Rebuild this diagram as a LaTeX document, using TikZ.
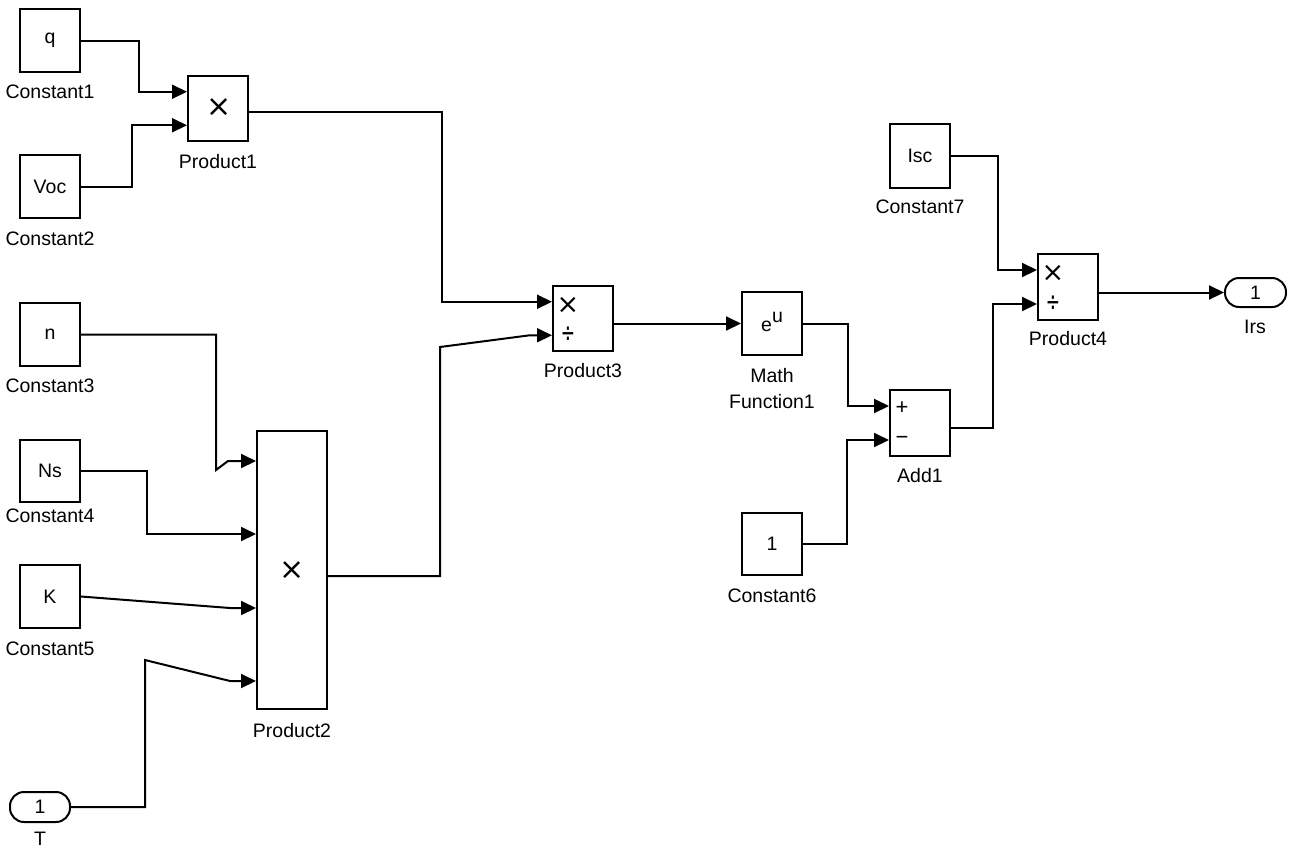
\documentclass[tikz,border=0pt]{standalone}
\usepackage{fontspec}
\setmainfont{Liberation Sans}
\newfontfamily\symfont{DejaVu Sans}
\usetikzlibrary{arrows.meta,calc}
\begin{document}
\begin{tikzpicture}[x=1pt,y=-1pt,
  blk/.style={draw, line width=2pt, inner sep=0pt, font=\fontsize{19.5}{22}\selectfont},
  lab/.style={anchor=base, font=\fontsize{19.5}{22}\selectfont, inner sep=0pt},
  sym/.style={inner sep=0pt, font=\fontsize{#1}{#1}\selectfont},
  sym/.default=19,
  wire/.style={line width=2pt, line join=miter},
  arr/.style={wire, -{Triangle[length=15pt,width=14pt]}},
  portblk/.style={blk, rounded corners=14pt}]
\useasboundingbox (0,0) rectangle (1295,847);

% blocks
\node[blk, minimum width=60pt, minimum height=63pt] (c1) at (50,40.5) {q};
\node[blk, minimum width=60pt, minimum height=63pt] (c2) at (50,186.5) {Voc};
\node[blk, minimum width=60pt, minimum height=63pt] (c3) at (50,334.5) {n};
\node[blk, minimum width=60pt, minimum height=62pt] (c4) at (50,471) {Ns};
\node[blk, minimum width=60pt, minimum height=63pt] (c5) at (50,596.5) {K};
\node[portblk, minimum width=60pt, minimum height=30pt] (T) at (40,807) {1};
\node[blk, minimum width=60pt, minimum height=65pt] (p1) at (218,108.5) {};
\node[blk, minimum width=70pt, minimum height=278pt] (p2) at (292,570) {};
\node[blk, minimum width=60pt, minimum height=65pt] (p3) at (583,318.5) {};
\node[blk, minimum width=60pt, minimum height=63pt] (mf) at (772,323.5) {};
\node[blk, minimum width=60pt, minimum height=62pt] (c6) at (772,544) {1};
\node[blk, minimum width=60pt, minimum height=66pt] (add) at (920,423) {};
\node[blk, minimum width=60pt, minimum height=64pt] (c7) at (920,156) {Isc};
\node[blk, minimum width=60pt, minimum height=66pt] (p4) at (1068,287) {};
\node[portblk, minimum width=61pt, minimum height=29pt] (irs) at (1255.5,292.5) {1};

% symbols inside blocks
\node[sym=30] (p1x) at (219,108) {\symfont ×};
\node[sym=30] (p2x) at (292,571) {\symfont ×};
\node[sym=27] (p3x) at (568,305) {\symfont ×};
\node[sym=20] (p3d) at (568,335) {\scalebox{0.85}[1.4]{\symfont ÷}};
\node[sym=27] (p4x) at (1053,273) {\symfont ×};
\node[sym=20] (p4d) at (1053,304) {\scalebox{0.85}[1.4]{\symfont ÷}};
\node[sym=22] (adp) at (902,408) {+};
\node[sym=22] (adm) at (902,440) {−};
\node[sym=19.5, anchor=base] (mfe) at (772,331) {e\raisebox{9pt}{u}};

% labels
\node[lab] (c1l) at (50,98) {Constant1};
\node[lab] (c2l) at (50,245) {Constant2};
\node[lab] (p1l) at (218,168) {Product1};
\node[lab] (c3l) at (50,392) {Constant3};
\node[lab] (c4l) at (50,522) {Constant4};
\node[lab] (c5l) at (50,655) {Constant5};
\node[lab] (p2l) at (292,737) {Product2};
\node[lab] (Tl) at (40,845) {T};
\node[lab] (p3l) at (583,377) {Product3};
\node[lab] (mfl1) at (772,382) {Math};
\node[lab] (mfl2) at (772,408) {Function1};
\node[lab] (addl) at (920,482) {Add1};
\node[lab] (c6l) at (772,602) {Constant6};
\node[lab] (c7l) at (920,213) {Constant7};
\node[lab] (p4l) at (1068,345) {Product4};
\node[lab] (irsl) at (1255,333) {Irs};

% ports
\coordinate (p1a) at ($(p1.north west)!0.25!(p1.south west)$);
\coordinate (p1b) at ($(p1.north west)!0.75!(p1.south west)$);
\coordinate (p3a) at ($(p3.north west)!0.25!(p3.south west)$);
\coordinate (p3b) at ($(p3.north west)!0.75!(p3.south west)$);
\coordinate (p4a) at ($(p4.north west)!0.25!(p4.south west)$);
\coordinate (p4b) at ($(p4.north west)!0.75!(p4.south west)$);
\coordinate (ada) at ($(add.north west)!0.25!(add.south west)$);
\coordinate (adb) at ($(add.north west)!0.75!(add.south west)$);
\coordinate (p2a) at (p2.west |- 0,461);
\coordinate (p2b) at (p2.west |- 0,534);
\coordinate (p2c) at (p2.west |- 0,608);
\coordinate (p2d) at (p2.west |- 0,681);
\coordinate (p2o) at (p2.east |- 0,576);
\coordinate (p1o) at (p1.east |- 0,112);
\coordinate (ado) at (add.east |- 0,428);

% wires
\draw[arr] (c1.east) -- (c1.east -| 139,0) -- (139,0 |- p1a) -- (p1a);
\draw[arr] (c2.east) -- (c2.east -| 132,0) -- (132,0 |- p1b) -- (p1b);
\draw[arr] (p1o) -- (p1o -| 442,0) -- (442,0 |- p3a) -- (p3a);
\draw[arr] (c3.east) -- (c3.east -| 216,0) -- (216,470) -- (228,0 |- p2a) -- (p2a);
\draw[arr] (c4.east) -- (c4.east -| 147,0) -- (147,0 |- p2b) -- (p2b);
\draw[arr] (c5.east) -- (230,0 |- p2c) -- (p2c);
\draw[arr] (T.east) -- (T.east -| 145,0) -- (145,660) -- (230,0 |- p2d) -- (p2d);
\draw[arr] (p2o) -- (p2o -| 440,0) -- (440,347) -- (530,0 |- p3b) -- (p3b);
\draw[arr] (p3.east |- mf.west) -- (mf.west);
\draw[arr] (mf.east) -- (mf.east -| 848,0) -- (848,0 |- ada) -- (ada);
\draw[arr] (c6.east) -- (c6.east -| 847,0) -- (847,0 |- adb) -- (adb);
\draw[arr] (ado) -- (ado -| 993,0) -- (993,0 |- p4b) -- (p4b);
\draw[arr] (c7.east) -- (c7.east -| 998,0) -- (998,0 |- p4a) -- (p4a);
\draw[arr] (p4.east |- irs.west) -- (irs.west);
\end{tikzpicture}
\end{document}
